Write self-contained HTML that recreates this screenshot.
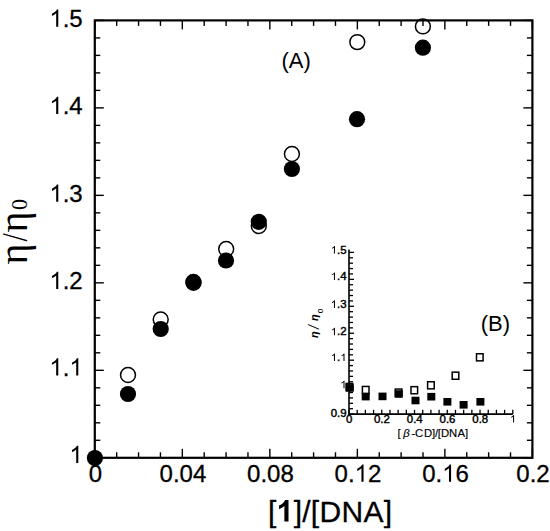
<!DOCTYPE html>
<html><head><meta charset="utf-8"><style>
html,body{margin:0;padding:0;background:#fff;}
body{width:550px;height:531px;overflow:hidden;}
svg{display:block;}
svg{font-family:"Liberation Sans",sans-serif;} text{fill:#000;}
</style></head><body>
<svg width="550" height="531" viewBox="0 0 550 531">
<rect width="550" height="531" fill="#fff"/>
<g stroke="#000" stroke-width="1.4">
<line x1="94.80" y1="457.80" x2="94.80" y2="448.80"/>
<line x1="94.80" y1="20.40" x2="94.80" y2="29.40"/>
<line x1="116.68" y1="457.80" x2="116.68" y2="452.30"/>
<line x1="116.68" y1="20.40" x2="116.68" y2="25.90"/>
<line x1="138.56" y1="457.80" x2="138.56" y2="452.30"/>
<line x1="138.56" y1="20.40" x2="138.56" y2="25.90"/>
<line x1="160.44" y1="457.80" x2="160.44" y2="452.30"/>
<line x1="160.44" y1="20.40" x2="160.44" y2="25.90"/>
<line x1="182.32" y1="457.80" x2="182.32" y2="448.80"/>
<line x1="182.32" y1="20.40" x2="182.32" y2="29.40"/>
<line x1="204.20" y1="457.80" x2="204.20" y2="452.30"/>
<line x1="204.20" y1="20.40" x2="204.20" y2="25.90"/>
<line x1="226.08" y1="457.80" x2="226.08" y2="452.30"/>
<line x1="226.08" y1="20.40" x2="226.08" y2="25.90"/>
<line x1="247.96" y1="457.80" x2="247.96" y2="452.30"/>
<line x1="247.96" y1="20.40" x2="247.96" y2="25.90"/>
<line x1="269.84" y1="457.80" x2="269.84" y2="448.80"/>
<line x1="269.84" y1="20.40" x2="269.84" y2="29.40"/>
<line x1="291.72" y1="457.80" x2="291.72" y2="452.30"/>
<line x1="291.72" y1="20.40" x2="291.72" y2="25.90"/>
<line x1="313.60" y1="457.80" x2="313.60" y2="452.30"/>
<line x1="313.60" y1="20.40" x2="313.60" y2="25.90"/>
<line x1="335.48" y1="457.80" x2="335.48" y2="452.30"/>
<line x1="335.48" y1="20.40" x2="335.48" y2="25.90"/>
<line x1="357.36" y1="457.80" x2="357.36" y2="448.80"/>
<line x1="357.36" y1="20.40" x2="357.36" y2="29.40"/>
<line x1="379.24" y1="457.80" x2="379.24" y2="452.30"/>
<line x1="379.24" y1="20.40" x2="379.24" y2="25.90"/>
<line x1="401.12" y1="457.80" x2="401.12" y2="452.30"/>
<line x1="401.12" y1="20.40" x2="401.12" y2="25.90"/>
<line x1="423.00" y1="457.80" x2="423.00" y2="452.30"/>
<line x1="423.00" y1="20.40" x2="423.00" y2="25.90"/>
<line x1="444.88" y1="457.80" x2="444.88" y2="448.80"/>
<line x1="444.88" y1="20.40" x2="444.88" y2="29.40"/>
<line x1="466.76" y1="457.80" x2="466.76" y2="452.30"/>
<line x1="466.76" y1="20.40" x2="466.76" y2="25.90"/>
<line x1="488.64" y1="457.80" x2="488.64" y2="452.30"/>
<line x1="488.64" y1="20.40" x2="488.64" y2="25.90"/>
<line x1="510.52" y1="457.80" x2="510.52" y2="452.30"/>
<line x1="510.52" y1="20.40" x2="510.52" y2="25.90"/>
<line x1="532.40" y1="457.80" x2="532.40" y2="448.80"/>
<line x1="532.40" y1="20.40" x2="532.40" y2="29.40"/>
<line x1="94.80" y1="457.80" x2="103.80" y2="457.80"/>
<line x1="532.40" y1="457.80" x2="523.40" y2="457.80"/>
<line x1="94.80" y1="440.30" x2="100.30" y2="440.30"/>
<line x1="532.40" y1="440.30" x2="526.90" y2="440.30"/>
<line x1="94.80" y1="422.81" x2="100.30" y2="422.81"/>
<line x1="532.40" y1="422.81" x2="526.90" y2="422.81"/>
<line x1="94.80" y1="405.31" x2="100.30" y2="405.31"/>
<line x1="532.40" y1="405.31" x2="526.90" y2="405.31"/>
<line x1="94.80" y1="387.82" x2="100.30" y2="387.82"/>
<line x1="532.40" y1="387.82" x2="526.90" y2="387.82"/>
<line x1="94.80" y1="370.32" x2="103.80" y2="370.32"/>
<line x1="532.40" y1="370.32" x2="523.40" y2="370.32"/>
<line x1="94.80" y1="352.82" x2="100.30" y2="352.82"/>
<line x1="532.40" y1="352.82" x2="526.90" y2="352.82"/>
<line x1="94.80" y1="335.33" x2="100.30" y2="335.33"/>
<line x1="532.40" y1="335.33" x2="526.90" y2="335.33"/>
<line x1="94.80" y1="317.83" x2="100.30" y2="317.83"/>
<line x1="532.40" y1="317.83" x2="526.90" y2="317.83"/>
<line x1="94.80" y1="300.34" x2="100.30" y2="300.34"/>
<line x1="532.40" y1="300.34" x2="526.90" y2="300.34"/>
<line x1="94.80" y1="282.84" x2="103.80" y2="282.84"/>
<line x1="532.40" y1="282.84" x2="523.40" y2="282.84"/>
<line x1="94.80" y1="265.34" x2="100.30" y2="265.34"/>
<line x1="532.40" y1="265.34" x2="526.90" y2="265.34"/>
<line x1="94.80" y1="247.85" x2="100.30" y2="247.85"/>
<line x1="532.40" y1="247.85" x2="526.90" y2="247.85"/>
<line x1="94.80" y1="230.35" x2="100.30" y2="230.35"/>
<line x1="532.40" y1="230.35" x2="526.90" y2="230.35"/>
<line x1="94.80" y1="212.86" x2="100.30" y2="212.86"/>
<line x1="532.40" y1="212.86" x2="526.90" y2="212.86"/>
<line x1="94.80" y1="195.36" x2="103.80" y2="195.36"/>
<line x1="532.40" y1="195.36" x2="523.40" y2="195.36"/>
<line x1="94.80" y1="177.86" x2="100.30" y2="177.86"/>
<line x1="532.40" y1="177.86" x2="526.90" y2="177.86"/>
<line x1="94.80" y1="160.37" x2="100.30" y2="160.37"/>
<line x1="532.40" y1="160.37" x2="526.90" y2="160.37"/>
<line x1="94.80" y1="142.87" x2="100.30" y2="142.87"/>
<line x1="532.40" y1="142.87" x2="526.90" y2="142.87"/>
<line x1="94.80" y1="125.38" x2="100.30" y2="125.38"/>
<line x1="532.40" y1="125.38" x2="526.90" y2="125.38"/>
<line x1="94.80" y1="107.88" x2="103.80" y2="107.88"/>
<line x1="532.40" y1="107.88" x2="523.40" y2="107.88"/>
<line x1="94.80" y1="90.38" x2="100.30" y2="90.38"/>
<line x1="532.40" y1="90.38" x2="526.90" y2="90.38"/>
<line x1="94.80" y1="72.89" x2="100.30" y2="72.89"/>
<line x1="532.40" y1="72.89" x2="526.90" y2="72.89"/>
<line x1="94.80" y1="55.39" x2="100.30" y2="55.39"/>
<line x1="532.40" y1="55.39" x2="526.90" y2="55.39"/>
<line x1="94.80" y1="37.90" x2="100.30" y2="37.90"/>
<line x1="532.40" y1="37.90" x2="526.90" y2="37.90"/>
<line x1="94.80" y1="20.40" x2="103.80" y2="20.40"/>
<line x1="532.40" y1="20.40" x2="523.40" y2="20.40"/>
</g>
<rect x="94.8" y="20.4" width="437.60" height="437.40" fill="none" stroke="#000" stroke-width="2.2"/>
<g fill="none" stroke="#000" stroke-width="1.5">
<circle cx="128" cy="375.0" r="7.45"/>
<circle cx="160.7" cy="319.5" r="7.45"/>
<circle cx="193.4" cy="282.0" r="7.45"/>
<circle cx="226.2" cy="249.0" r="7.45"/>
<circle cx="258.8" cy="226.0" r="7.45"/>
<circle cx="291.9" cy="154" r="7.45"/>
<circle cx="357.3" cy="42.1" r="7.45"/>
<circle cx="422.9" cy="26.4" r="7.45"/>
</g>
<g fill="#000">
<circle cx="94.9" cy="458.0" r="8.10"/>
<circle cx="128" cy="394.0" r="8.10"/>
<circle cx="160.7" cy="329.0" r="8.10"/>
<circle cx="193.5" cy="282.8" r="8.10"/>
<circle cx="226" cy="260.5" r="8.10"/>
<circle cx="258.8" cy="221.8" r="8.10"/>
<circle cx="291.9" cy="169" r="8.10"/>
<circle cx="357.0" cy="119.2" r="8.10"/>
<circle cx="422.9" cy="47.7" r="8.10"/>
</g>
<g font-size="24" stroke="#000" stroke-width="0.3">
<path transform="translate(49.34,26.70) scale(0.01172,-0.01172)" d="M763 0L583 0L583 1147Q518 1085 412 1023Q306 961 222 930L222 1104Q373 1175 486 1276Q599 1377 646 1472L763 1472Z"/>
<text x="62.68" y="26.70" font-size="24">.5</text>
<path transform="translate(49.34,114.10) scale(0.01172,-0.01172)" d="M763 0L583 0L583 1147Q518 1085 412 1023Q306 961 222 930L222 1104Q373 1175 486 1276Q599 1377 646 1472L763 1472Z"/>
<text x="62.68" y="114.10" font-size="24">.4</text>
<path transform="translate(49.34,201.80) scale(0.01172,-0.01172)" d="M763 0L583 0L583 1147Q518 1085 412 1023Q306 961 222 930L222 1104Q373 1175 486 1276Q599 1377 646 1472L763 1472Z"/>
<text x="62.68" y="201.80" font-size="24">.3</text>
<path transform="translate(49.34,289.00) scale(0.01172,-0.01172)" d="M763 0L583 0L583 1147Q518 1085 412 1023Q306 961 222 930L222 1104Q373 1175 486 1276Q599 1377 646 1472L763 1472Z"/>
<text x="62.68" y="289.00" font-size="24">.2</text>
<path transform="translate(49.34,375.60) scale(0.01172,-0.01172)" d="M763 0L583 0L583 1147Q518 1085 412 1023Q306 961 222 930L222 1104Q373 1175 486 1276Q599 1377 646 1472L763 1472Z"/>
<text x="62.68" y="375.60" font-size="24">.</text>
<path transform="translate(69.36,375.60) scale(0.01172,-0.01172)" d="M763 0L583 0L583 1147Q518 1085 412 1023Q306 961 222 930L222 1104Q373 1175 486 1276Q599 1377 646 1472L763 1472Z"/>
<path transform="translate(69.36,463.00) scale(0.01172,-0.01172)" d="M763 0L583 0L583 1147Q518 1085 412 1023Q306 961 222 930L222 1104Q373 1175 486 1276Q599 1377 646 1472L763 1472Z"/>
<text x="88.73" y="481.80" font-size="24">0</text>
<text x="159.57" y="481.80" font-size="24">0.04</text>
<text x="247.09" y="481.80" font-size="24">0.08</text>
<text x="334.61" y="481.80" font-size="24">0.</text>
<path transform="translate(354.62,481.80) scale(0.01172,-0.01172)" d="M763 0L583 0L583 1147Q518 1085 412 1023Q306 961 222 930L222 1104Q373 1175 486 1276Q599 1377 646 1472L763 1472Z"/>
<text x="367.97" y="481.80" font-size="24">2</text>
<text x="422.13" y="481.80" font-size="24">0.</text>
<path transform="translate(442.14,481.80) scale(0.01172,-0.01172)" d="M763 0L583 0L583 1147Q518 1085 412 1023Q306 961 222 930L222 1104Q373 1175 486 1276Q599 1377 646 1472L763 1472Z"/>
<text x="455.49" y="481.80" font-size="24">6</text>
<text x="516.32" y="481.80" font-size="24">0.2</text>
</g>
<text x="268.07" y="521.6" font-size="30" stroke="#000" stroke-width="0.3">[</text>
<path transform="translate(276.69,521.6) scale(0.01465,-0.01465)" d="M806 0L525 0L525 1059Q371 915 162 846L162 1101Q272 1137 401 1237Q530 1337 578 1470L806 1470Z"/>
<text x="293.65" y="521.6" font-size="30" letter-spacing="0.28" stroke="#000" stroke-width="0.3">]/[DNA]</text>
<text x="281.5" y="68.2" font-size="22">(A)</text>
<g style="font-family:'Liberation Serif',serif">
<text transform="translate(26.8,264.4) rotate(-90)" font-size="40">η</text>
<text transform="translate(27.1,241.5) rotate(-90) scale(0.816,1)" font-size="36.6">/</text>
<text transform="translate(26.8,232.5) rotate(-90)" font-size="40">η</text>
<text transform="translate(26.9,210.0) rotate(-90) scale(0.93,1)" font-size="23.85">0</text>
</g>
<!-- inset -->
<g stroke="#000" stroke-width="1.3">
<line x1="349.00" y1="414.10" x2="349.00" y2="409.80"/>
<line x1="357.19" y1="414.10" x2="357.19" y2="409.80"/>
<line x1="365.38" y1="414.10" x2="365.38" y2="409.80"/>
<line x1="373.57" y1="414.10" x2="373.57" y2="409.80"/>
<line x1="381.76" y1="414.10" x2="381.76" y2="409.80"/>
<line x1="389.95" y1="414.10" x2="389.95" y2="409.80"/>
<line x1="398.14" y1="414.10" x2="398.14" y2="409.80"/>
<line x1="406.33" y1="414.10" x2="406.33" y2="409.80"/>
<line x1="414.52" y1="414.10" x2="414.52" y2="409.80"/>
<line x1="422.71" y1="414.10" x2="422.71" y2="409.80"/>
<line x1="430.90" y1="414.10" x2="430.90" y2="409.80"/>
<line x1="439.09" y1="414.10" x2="439.09" y2="409.80"/>
<line x1="447.28" y1="414.10" x2="447.28" y2="409.80"/>
<line x1="455.47" y1="414.10" x2="455.47" y2="409.80"/>
<line x1="463.66" y1="414.10" x2="463.66" y2="409.80"/>
<line x1="471.85" y1="414.10" x2="471.85" y2="409.80"/>
<line x1="480.04" y1="414.10" x2="480.04" y2="409.80"/>
<line x1="488.23" y1="414.10" x2="488.23" y2="409.80"/>
<line x1="496.42" y1="414.10" x2="496.42" y2="409.80"/>
<line x1="504.61" y1="414.10" x2="504.61" y2="409.80"/>
<line x1="512.80" y1="414.10" x2="512.80" y2="409.80"/>
<line x1="349.00" y1="414.10" x2="354.00" y2="414.10"/>
<line x1="349.00" y1="408.71" x2="353.00" y2="408.71"/>
<line x1="349.00" y1="403.32" x2="353.00" y2="403.32"/>
<line x1="349.00" y1="397.93" x2="353.00" y2="397.93"/>
<line x1="349.00" y1="392.54" x2="353.00" y2="392.54"/>
<line x1="349.00" y1="387.15" x2="354.00" y2="387.15"/>
<line x1="349.00" y1="381.76" x2="353.00" y2="381.76"/>
<line x1="349.00" y1="376.37" x2="353.00" y2="376.37"/>
<line x1="349.00" y1="370.98" x2="353.00" y2="370.98"/>
<line x1="349.00" y1="365.59" x2="353.00" y2="365.59"/>
<line x1="349.00" y1="360.20" x2="354.00" y2="360.20"/>
<line x1="349.00" y1="354.81" x2="353.00" y2="354.81"/>
<line x1="349.00" y1="349.42" x2="353.00" y2="349.42"/>
<line x1="349.00" y1="344.03" x2="353.00" y2="344.03"/>
<line x1="349.00" y1="338.64" x2="353.00" y2="338.64"/>
<line x1="349.00" y1="333.25" x2="354.00" y2="333.25"/>
<line x1="349.00" y1="327.86" x2="353.00" y2="327.86"/>
<line x1="349.00" y1="322.47" x2="353.00" y2="322.47"/>
<line x1="349.00" y1="317.08" x2="353.00" y2="317.08"/>
<line x1="349.00" y1="311.69" x2="353.00" y2="311.69"/>
<line x1="349.00" y1="306.30" x2="354.00" y2="306.30"/>
<line x1="349.00" y1="300.91" x2="353.00" y2="300.91"/>
<line x1="349.00" y1="295.52" x2="353.00" y2="295.52"/>
<line x1="349.00" y1="290.13" x2="353.00" y2="290.13"/>
<line x1="349.00" y1="284.74" x2="353.00" y2="284.74"/>
<line x1="349.00" y1="279.35" x2="354.00" y2="279.35"/>
<line x1="349.00" y1="273.96" x2="353.00" y2="273.96"/>
<line x1="349.00" y1="268.57" x2="353.00" y2="268.57"/>
<line x1="349.00" y1="263.18" x2="353.00" y2="263.18"/>
<line x1="349.00" y1="257.79" x2="353.00" y2="257.79"/>
<line x1="349.00" y1="252.40" x2="354.00" y2="252.40"/>
<line x1="349.0" y1="249.6" x2="349.0" y2="414.70000000000005" stroke-width="1.6"/>
<line x1="348.2" y1="414.1" x2="512.8" y2="414.1" stroke-width="1.6"/>
</g>
<g fill="none" stroke="#000" stroke-width="1.5">
<rect x="346.20" y="383.45" width="6.60" height="7.10"/>
<rect x="362.40" y="386.45" width="6.60" height="7.10"/>
<rect x="395.30" y="389.05" width="6.60" height="7.10"/>
<rect x="411.00" y="386.65" width="6.60" height="7.10"/>
<rect x="427.60" y="381.75" width="6.60" height="7.10"/>
<rect x="452.20" y="372.15" width="6.60" height="7.10"/>
<rect x="476.50" y="353.75" width="6.60" height="7.10"/>
</g>
<g fill="#000">
<rect x="345.70" y="384.10" width="8.00" height="7.60"/>
<rect x="361.70" y="392.80" width="8.00" height="7.60"/>
<rect x="378.50" y="392.60" width="8.00" height="7.60"/>
<rect x="394.70" y="390.20" width="8.00" height="7.60"/>
<rect x="411.50" y="396.70" width="8.00" height="7.60"/>
<rect x="427.30" y="392.90" width="8.00" height="7.60"/>
<rect x="443.40" y="398.00" width="8.00" height="7.60"/>
<rect x="459.60" y="401.00" width="8.00" height="7.60"/>
<rect x="476.40" y="398.00" width="8.00" height="7.60"/>
</g>
<g stroke="#000" stroke-width="0.4">
<path transform="translate(330.69,253.60) scale(0.00559,-0.00513)" d="M763 0L583 0L583 1147Q518 1085 412 1023Q306 961 222 930L222 1104Q373 1175 486 1276Q599 1377 646 1472L763 1472Z"/>
<text transform="translate(337.05,253.60) scale(1.09,1)" font-size="10.5">.5</text>
<path transform="translate(330.69,279.95) scale(0.00559,-0.00513)" d="M763 0L583 0L583 1147Q518 1085 412 1023Q306 961 222 930L222 1104Q373 1175 486 1276Q599 1377 646 1472L763 1472Z"/>
<text transform="translate(337.05,279.95) scale(1.09,1)" font-size="10.5">.4</text>
<path transform="translate(330.69,307.90) scale(0.00559,-0.00513)" d="M763 0L583 0L583 1147Q518 1085 412 1023Q306 961 222 930L222 1104Q373 1175 486 1276Q599 1377 646 1472L763 1472Z"/>
<text transform="translate(337.05,307.90) scale(1.09,1)" font-size="10.5">.3</text>
<path transform="translate(330.69,335.35) scale(0.00559,-0.00513)" d="M763 0L583 0L583 1147Q518 1085 412 1023Q306 961 222 930L222 1104Q373 1175 486 1276Q599 1377 646 1472L763 1472Z"/>
<text transform="translate(337.05,335.35) scale(1.09,1)" font-size="10.5">.2</text>
<path transform="translate(330.69,361.10) scale(0.00559,-0.00513)" d="M763 0L583 0L583 1147Q518 1085 412 1023Q306 961 222 930L222 1104Q373 1175 486 1276Q599 1377 646 1472L763 1472Z"/>
<text transform="translate(337.05,361.10) scale(1.09,1)" font-size="10.5">.</text>
<path transform="translate(340.24,361.10) scale(0.00559,-0.00513)" d="M763 0L583 0L583 1147Q518 1085 412 1023Q306 961 222 930L222 1104Q373 1175 486 1276Q599 1377 646 1472L763 1472Z"/>
<path transform="translate(340.24,388.25) scale(0.00559,-0.00513)" d="M763 0L583 0L583 1147Q518 1085 412 1023Q306 961 222 930L222 1104Q373 1175 486 1276Q599 1377 646 1472L763 1472Z"/>
<text transform="translate(330.69,416.50) scale(1.09,1)" font-size="10.5">0.9</text>
<text transform="translate(346.02,422.60) scale(1.09,1)" font-size="10.5">0</text>
<text transform="translate(374.01,422.60) scale(1.09,1)" font-size="10.5">0.2</text>
<text transform="translate(406.77,422.60) scale(1.09,1)" font-size="10.5">0.4</text>
<text transform="translate(439.53,422.60) scale(1.09,1)" font-size="10.5">0.6</text>
<text transform="translate(472.29,422.60) scale(1.09,1)" font-size="10.5">0.8</text>
<path transform="translate(509.82,422.60) scale(0.00559,-0.00513)" d="M763 0L583 0L583 1147Q518 1085 412 1023Q306 961 222 930L222 1104Q373 1175 486 1276Q599 1377 646 1472L763 1472Z"/>
</g>
<text y="436.7" font-size="11.3" stroke="#000" stroke-width="0.15"><tspan x="397.6">[</tspan><tspan x="403.3" font-style="italic">β</tspan><tspan x="411.5">-</tspan><tspan x="415.1">C</tspan><tspan x="424.1">D</tspan><tspan x="431.9">]</tspan><tspan x="435.0">/</tspan><tspan x="437.7">[</tspan><tspan x="441.1">D</tspan><tspan x="449.1">N</tspan><tspan x="457.5">A</tspan><tspan x="464.9">]</tspan></text>
<text x="480.8" y="331.2" font-size="22">(B)</text>
<g style="font-style:italic">
<text transform="translate(318.3,337.9) rotate(-90)" font-size="11" font-weight="bold">η</text>
<text transform="translate(319.3,328.9) rotate(-90)" font-size="14">/</text>
<text transform="translate(318.3,321.0) rotate(-90)" font-size="11" font-weight="bold">η</text>
<text transform="translate(322.7,313.3) rotate(-90)" font-size="8.5" style="font-style:normal">o</text>
</g>
</svg>
</body></html>
